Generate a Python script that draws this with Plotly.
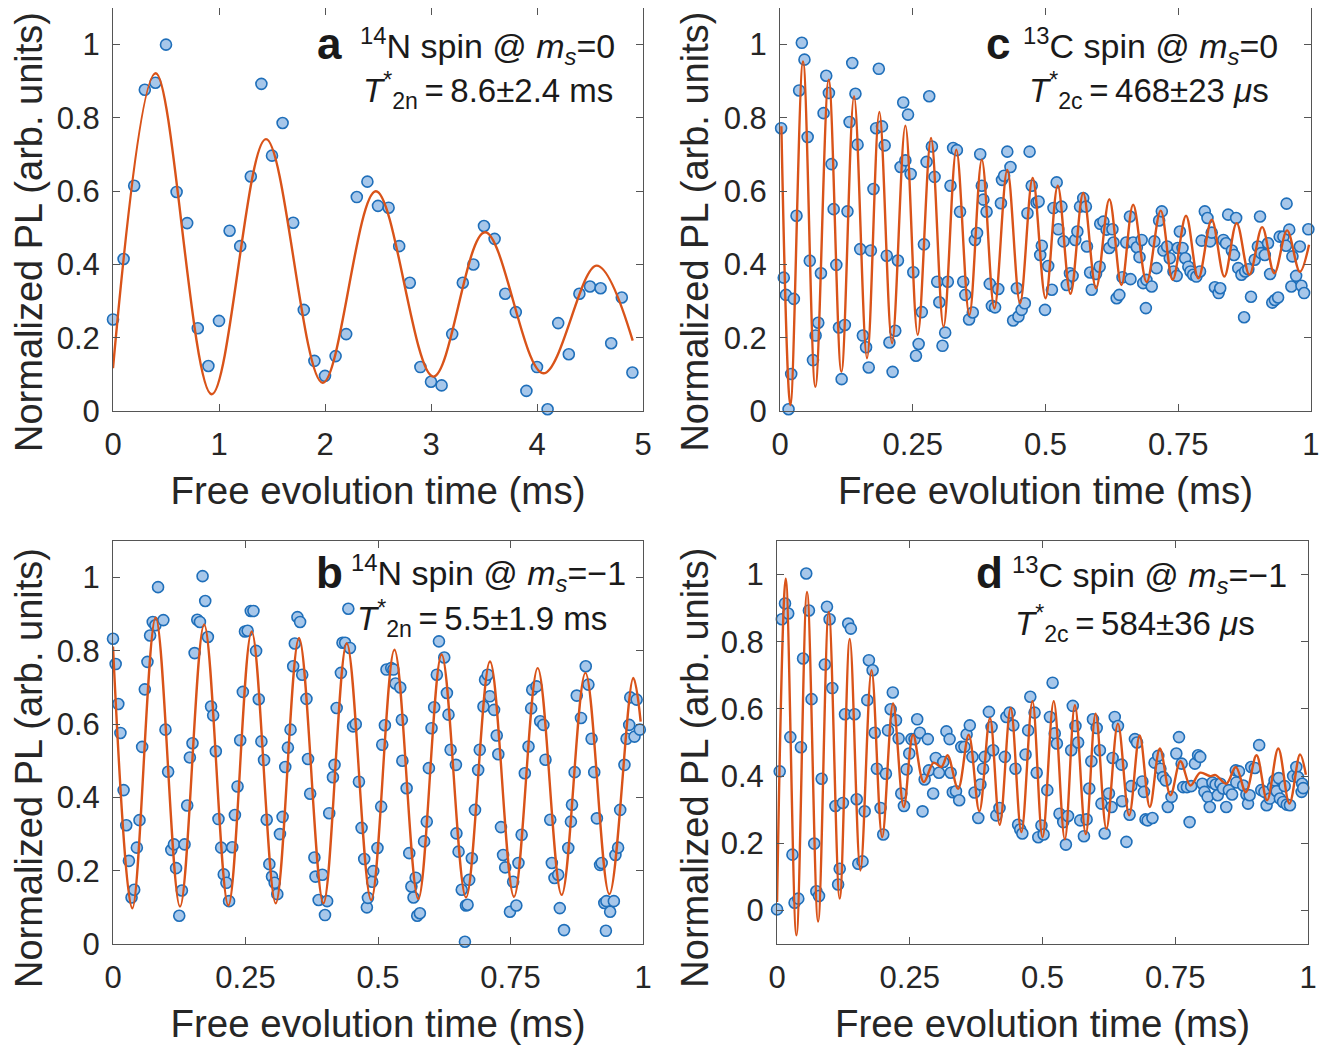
import plotly.graph_objects as go

# ---- 数据 ----
# a: 14N spin @ ms=0
a_time = [0.0, 0.1, 0.2, 0.3, 0.4, 0.5, 0.6, 0.7, 0.8, 0.9, 1.0, 1.1, 1.2, 1.3, 1.4, 1.5, 1.6, 1.7, 1.8, 1.9,
          2.0, 2.1, 2.2, 2.3, 2.4, 2.5, 2.6, 2.7, 2.8, 2.9, 3.0, 3.1, 3.2, 3.3, 3.4, 3.5, 3.6, 3.7, 3.8, 3.9,
          4.0, 4.1, 4.2, 4.3, 4.4, 4.5, 4.6, 4.7, 4.8, 4.9]
a_pl = [0.25, 0.415, 0.615, 0.877, 0.896, 1.0, 0.598, 0.513, 0.226, 0.123, 0.246, 0.492, 0.45, 0.64, 0.893,
        0.697, 0.786, 0.514, 0.276, 0.137, 0.096, 0.15, 0.21, 0.584, 0.626, 0.56, 0.555, 0.45, 0.35, 0.12,
        0.08, 0.07, 0.21, 0.35, 0.40, 0.505, 0.47, 0.32, 0.27, 0.055, 0.12, 0.005, 0.24, 0.155, 0.32, 0.34,
        0.335, 0.185, 0.31, 0.105]
a_fit_time = [0.0, 0.403, 0.931, 1.443, 1.978, 2.48, 3.022, 3.509, 4.06, 4.563, 4.903]
a_fit_pl = [0.117, 0.922, 0.046, 0.742, 0.077, 0.60, 0.094, 0.488, 0.103, 0.397, 0.192]

# b: 14N spin @ ms=-1
b_time = [0.000, 0.005, 0.010, 0.014, 0.020, 0.025, 0.030, 0.035, 0.040, 0.045, 0.050, 0.055, 0.060, 0.065,
          0.070, 0.075, 0.080, 0.085, 0.095, 0.099, 0.104, 0.110, 0.115, 0.119, 0.125, 0.130, 0.135, 0.140,
          0.145, 0.150, 0.154, 0.159, 0.164, 0.169, 0.174, 0.179, 0.185, 0.189, 0.194, 0.199, 0.204, 0.209,
          0.214, 0.219, 0.225, 0.230, 0.235, 0.240, 0.245, 0.249, 0.254, 0.260, 0.265, 0.270, 0.275, 0.280,
          0.285, 0.290, 0.295, 0.300, 0.305, 0.310, 0.315, 0.320, 0.325, 0.330, 0.335, 0.340, 0.343,
          0.348, 0.353, 0.357, 0.365, 0.368, 0.372, 0.380, 0.382, 0.388, 0.395, 0.400, 0.404, 0.408, 0.415,
          0.418, 0.422, 0.430, 0.433, 0.438, 0.444, 0.447, 0.453, 0.458, 0.464, 0.469, 0.474, 0.479, 0.481,
          0.489, 0.491, 0.499, 0.506, 0.508, 0.513, 0.516, 0.525, 0.529, 0.533, 0.542, 0.545, 0.546, 0.554,
          0.559, 0.563, 0.567, 0.571, 0.574, 0.579, 0.587, 0.592, 0.596, 0.601, 0.606, 0.611, 0.615, 0.625,
          0.630, 0.633, 0.637, 0.647, 0.648, 0.652, 0.658, 0.664, 0.666,
          0.669, 0.672, 0.677, 0.683, 0.689, 0.692, 0.699, 0.702, 0.707, 0.711, 0.719, 0.724, 0.727, 0.732,
          0.736, 0.740, 0.749, 0.755, 0.761, 0.765, 0.771, 0.777, 0.784, 0.789, 0.791, 0.799, 0.806, 0.812,
          0.816, 0.825, 0.828, 0.833, 0.840, 0.843, 0.851, 0.859, 0.864, 0.866, 0.871, 0.875, 0.883, 0.892,
          0.897, 0.903, 0.908, 0.913, 0.919, 0.922, 0.927, 0.930, 0.931, 0.938, 0.945, 0.948, 0.953, 0.957,
          0.965, 0.969, 0.974, 0.976, 0.984, 0.988, 0.994]
b_pl = [0.833, 0.764, 0.655, 0.576, 0.420, 0.324, 0.227, 0.127, 0.148, 0.263, 0.338, 0.538, 0.695, 0.770,
        0.842, 0.879, 0.870, 0.974, 0.884, 0.585, 0.470, 0.257, 0.272, 0.207, 0.077, 0.146, 0.272, 0.378,
        0.509, 0.548, 0.794, 0.885, 0.879, 1.004, 0.936, 0.838, 0.648, 0.624, 0.526, 0.341, 0.263, 0.190,
        0.167, 0.117, 0.264, 0.352, 0.430, 0.556, 0.688, 0.853, 0.855, 0.909, 0.909, 0.800, 0.668, 0.553,
        0.502, 0.339, 0.218, 0.184, 0.167, 0.136, 0.300, 0.347, 0.483, 0.536, 0.585, 0.758, 0.820,
        0.892, 0.879, 0.735, 0.669, 0.505, 0.410, 0.236, 0.184, 0.120, 0.189, 0.079, 0.117, 0.357, 0.455,
        0.489, 0.644, 0.740, 0.822, 0.822, 0.915, 0.808, 0.594, 0.600, 0.443, 0.317, 0.232, 0.100, 0.126,
        0.170, 0.199, 0.262, 0.375, 0.544, 0.597, 0.749, 0.753, 0.749, 0.711, 0.700, 0.612, 0.500, 0.425,
        0.248, 0.157, 0.127, 0.181, 0.077, 0.084, 0.280, 0.334, 0.480, 0.589, 0.646, 0.735, 0.826, 0.782,
        0.685, 0.626, 0.530, 0.489, 0.302, 0.252, 0.148, 0.006, 0.105,
        0.107, 0.175, 0.234, 0.366, 0.475, 0.530, 0.648, 0.721, 0.735, 0.676, 0.639, 0.569, 0.518, 0.319,
        0.243, 0.209, 0.088, 0.170, 0.105, 0.221, 0.298, 0.466, 0.539, 0.643, 0.694, 0.703, 0.608, 0.598,
        0.503, 0.339, 0.221, 0.180, 0.189, 0.098, 0.038, 0.262, 0.334, 0.380, 0.469, 0.678, 0.617, 0.758,
        0.708, 0.560, 0.469, 0.343, 0.216, 0.221, 0.112, 0.036, 0.117, 0.088, 0.117, 0.243, 0.263, 0.366,
        0.489, 0.560, 0.598, 0.673, 0.566, 0.667, 0.585]
b_fit_time = [0.0, 0.0365, 0.0805, 0.1264, 0.172, 0.2176, 0.2616, 0.307, 0.351, 0.397, 0.441, 0.487, 0.531,
              0.576, 0.620, 0.666, 0.7113, 0.7566, 0.8013, 0.8465, 0.8914, 0.9365, 0.9817, 0.9956]
b_fit_pl = [0.812, 0.0975, 0.891, 0.102, 0.872, 0.105, 0.853, 0.111, 0.835, 0.111, 0.821, 0.12, 0.803,
            0.123, 0.79, 0.127, 0.771, 0.129, 0.753, 0.134, 0.74, 0.136, 0.726, 0.607]

# c: 13C spin @ ms=0
c_time = [0.002, 0.007, 0.011, 0.016, 0.021, 0.026, 0.031, 0.036, 0.041, 0.046, 0.052, 0.056, 0.062, 0.067,
          0.072, 0.077, 0.082, 0.087, 0.092, 0.097, 0.101, 0.106, 0.111, 0.116, 0.122, 0.127, 0.131, 0.136,
          0.142, 0.146, 0.151, 0.156, 0.162, 0.167, 0.171, 0.176, 0.181, 0.186, 0.192, 0.197, 0.201, 0.206,
          0.212, 0.217, 0.222, 0.227, 0.232, 0.236, 0.241, 0.246, 0.251, 0.256, 0.261, 0.267, 0.271, 0.276,
          0.281, 0.286, 0.291, 0.296, 0.300, 0.306, 0.311, 0.316, 0.321, 0.326, 0.333, 0.339, 0.345, 0.349,
          0.356, 0.363, 0.367, 0.371, 0.377, 0.380, 0.383, 0.389, 0.395, 0.399, 0.405, 0.411, 0.416, 0.418,
          0.422, 0.428, 0.434, 0.439, 0.446, 0.449, 0.455, 0.461, 0.466, 0.470, 0.474, 0.483, 0.487, 0.490,
          0.493, 0.499, 0.505, 0.512, 0.515, 0.521, 0.524, 0.530, 0.534, 0.540, 0.546, 0.551, 0.556, 0.560,
          0.565, 0.571, 0.576, 0.578, 0.584, 0.587, 0.595, 0.602, 0.603, 0.609, 0.615, 0.620, 0.626, 0.628,
          0.634, 0.639, 0.645, 0.652, 0.659, 0.660, 0.665, 0.672, 0.677, 0.681, 0.684, 0.689, 0.690, 0.700,
          0.705, 0.709, 0.714, 0.719, 0.722, 0.729, 0.734, 0.741, 0.747, 0.749, 0.753, 0.758, 0.763, 0.769,
          0.773, 0.778, 0.784, 0.791, 0.794, 0.800, 0.805, 0.810, 0.813, 0.819, 0.826, 0.829, 0.835, 0.840,
          0.844, 0.851, 0.855, 0.859, 0.863, 0.869, 0.874, 0.876, 0.882, 0.887, 0.894, 0.900, 0.904, 0.906,
          0.913, 0.919, 0.923, 0.927, 0.932, 0.938, 0.941, 0.948, 0.953, 0.954, 0.959, 0.963, 0.965, 0.972,
          0.979, 0.982, 0.987, 0.995]
c_pl = [0.772, 0.364, 0.317, 0.005, 0.101, 0.306, 0.533, 0.875, 1.005, 0.959, 0.748, 0.410, 0.139, 0.206,
        0.241, 0.376, 0.813, 0.915, 0.868, 0.674, 0.551, 0.399, 0.228, 0.087, 0.235, 0.545, 0.789, 0.950,
        0.866, 0.727, 0.442, 0.206, 0.174, 0.119, 0.438, 0.606, 0.772, 0.934, 0.777, 0.725, 0.424, 0.187,
        0.107, 0.219, 0.411, 0.666, 0.842, 0.684, 0.809, 0.647, 0.379, 0.151, 0.183, 0.270, 0.455, 0.680,
        0.859, 0.722, 0.639, 0.353, 0.297, 0.178, 0.214, 0.353, 0.615, 0.718, 0.712, 0.544, 0.353, 0.317,
        0.250, 0.269, 0.467, 0.486, 0.701, 0.615, 0.577, 0.544, 0.347, 0.287, 0.283, 0.333, 0.567, 0.631,
        0.642, 0.708, 0.666, 0.247, 0.335, 0.258, 0.276, 0.294, 0.540, 0.708, 0.615, 0.569, 0.572, 0.426,
        0.451, 0.276, 0.396, 0.331, 0.554, 0.624, 0.496, 0.558, 0.463, 0.344, 0.376, 0.369, 0.467, 0.490,
        0.558, 0.581, 0.558, 0.449, 0.378, 0.331, 0.374, 0.394, 0.511, 0.517, 0.495, 0.445, 0.496, 0.460,
        0.308, 0.317, 0.365, 0.460, 0.531, 0.360, 0.460, 0.447, 0.420, 0.467, 0.349, 0.281, 0.358, 0.340,
        0.463, 0.390, 0.520, 0.545, 0.438, 0.449, 0.417, 0.381, 0.369, 0.445, 0.490, 0.445, 0.417, 0.394,
        0.381, 0.372, 0.367, 0.381, 0.465, 0.545, 0.527, 0.463, 0.487, 0.338, 0.322, 0.335, 0.467, 0.458,
        0.536, 0.438, 0.426, 0.527, 0.390, 0.372, 0.256, 0.381, 0.387, 0.312, 0.413, 0.449, 0.531, 0.431,
        0.426, 0.458, 0.374, 0.296, 0.303, 0.310, 0.476, 0.476, 0.451, 0.566, 0.495, 0.340, 0.422, 0.369,
        0.449, 0.342, 0.322, 0.496]
c_fit_time = [0.0025, 0.0195, 0.0433, 0.0665, 0.0916, 0.1155, 0.1394, 0.1638, 0.187, 0.211, 0.236, 0.2593,
              0.2844, 0.308, 0.332, 0.3565, 0.380, 0.4037, 0.428, 0.452, 0.4758, 0.500, 0.523, 0.547, 0.571,
              0.5952, 0.6202, 0.643, 0.665, 0.6905, 0.7169, 0.7395, 0.7646, 0.7878, 0.813, 0.8368, 0.86,
              0.884, 0.908, 0.931, 0.955, 0.979, 0.9963]
c_fit_pl = [0.777, 0.016, 0.954, 0.066, 0.904, 0.107, 0.859, 0.144, 0.816, 0.185, 0.779, 0.208, 0.745, 0.23,
            0.713, 0.262, 0.686, 0.28, 0.658, 0.294, 0.636, 0.308, 0.615, 0.32, 0.595, 0.335, 0.578, 0.344,
            0.563, 0.352, 0.547, 0.358, 0.533, 0.362, 0.522, 0.367, 0.513, 0.372, 0.502, 0.376, 0.493, 0.38,
            0.454]

# d: 13C spin @ ms=-1
d_time = [0.000, 0.005, 0.009, 0.015, 0.021, 0.025, 0.029, 0.033, 0.040, 0.045, 0.049, 0.055, 0.060, 0.065,
          0.070, 0.074, 0.079, 0.084, 0.090, 0.094, 0.099, 0.104, 0.110, 0.115, 0.118, 0.124, 0.128, 0.134,
          0.139, 0.146, 0.150, 0.153, 0.161, 0.165, 0.170, 0.173, 0.180, 0.184, 0.188, 0.195, 0.200, 0.205,
          0.209, 0.214, 0.218, 0.224, 0.229, 0.234, 0.239, 0.244, 0.249, 0.253, 0.259, 0.264, 0.269, 0.274,
          0.278, 0.284, 0.286, 0.294, 0.299, 0.305, 0.313, 0.319, 0.325, 0.327, 0.331, 0.337, 0.343, 0.347,
          0.353, 0.357, 0.363, 0.368, 0.372, 0.379, 0.383, 0.388, 0.391, 0.399, 0.404, 0.407, 0.413, 0.419,
          0.429, 0.432, 0.438, 0.445, 0.449, 0.454, 0.458, 0.462, 0.468, 0.473, 0.477, 0.485, 0.489, 0.492,
          0.498, 0.502, 0.509, 0.514, 0.519, 0.523, 0.527, 0.532, 0.539, 0.544, 0.548, 0.554, 0.557, 0.562,
          0.567, 0.571, 0.578, 0.583, 0.588, 0.592, 0.595, 0.602, 0.608, 0.611, 0.617, 0.625, 0.630, 0.632,
          0.636, 0.642, 0.649, 0.650, 0.658, 0.664, 0.667, 0.674, 0.678, 0.688, 0.691, 0.694, 0.698, 0.707,
          0.711, 0.718, 0.722, 0.727, 0.732, 0.736, 0.743, 0.752, 0.757, 0.762, 0.765, 0.772, 0.777, 0.780,
          0.787, 0.793, 0.797, 0.801, 0.805, 0.811, 0.815, 0.820, 0.826, 0.830, 0.835, 0.840, 0.846, 0.851,
          0.857, 0.864, 0.865, 0.870, 0.878, 0.884, 0.887, 0.890, 0.893, 0.900, 0.908, 0.912, 0.918, 0.922,
          0.928, 0.934, 0.937, 0.941, 0.945, 0.947, 0.953, 0.956, 0.960, 0.966, 0.972, 0.978, 0.981, 0.988,
          0.989, 0.991]
d_pl = [0.003, 0.414, 0.867, 0.914, 0.884, 0.516, 0.166, 0.023, 0.035, 0.486, 0.750, 1.003, 0.893, 0.629,
        0.199, 0.057, 0.043, 0.392, 0.732, 0.904, 0.867, 0.662, 0.311, 0.077, 0.124, 0.320, 0.584, 0.854,
        0.839, 0.584, 0.331, 0.139, 0.146, 0.295, 0.626, 0.745, 0.715, 0.529, 0.422, 0.305, 0.226, 0.407,
        0.536, 0.599, 0.649, 0.566, 0.512, 0.348, 0.311, 0.420, 0.467, 0.510, 0.510, 0.569, 0.529, 0.295,
        0.390, 0.510, 0.417, 0.348, 0.454, 0.410, 0.442, 0.533, 0.510, 0.410, 0.352, 0.355, 0.328, 0.487,
        0.487, 0.524, 0.551, 0.457, 0.351, 0.275, 0.375, 0.422, 0.457, 0.591, 0.546, 0.477, 0.283, 0.305,
        0.457, 0.576, 0.589, 0.551, 0.422, 0.255, 0.241, 0.229, 0.464, 0.536, 0.636, 0.589, 0.410, 0.218,
        0.253, 0.226, 0.358, 0.576, 0.678, 0.527, 0.497, 0.288, 0.263, 0.196, 0.281, 0.477, 0.609, 0.549,
        0.500, 0.268, 0.221, 0.271, 0.363, 0.444, 0.569, 0.543, 0.477, 0.318, 0.229, 0.348, 0.308, 0.454,
        0.576, 0.549, 0.434, 0.325, 0.204, 0.285, 0.370, 0.510, 0.500, 0.384, 0.353, 0.271, 0.268, 0.275,
        0.440, 0.460, 0.422, 0.397, 0.387, 0.308, 0.338, 0.467, 0.516, 0.437, 0.367, 0.367, 0.263, 0.370,
        0.437, 0.462, 0.457, 0.377, 0.353, 0.338, 0.308, 0.381, 0.375, 0.343, 0.377, 0.363, 0.308, 0.358,
        0.345, 0.417, 0.381, 0.414, 0.372, 0.345, 0.318, 0.343, 0.427, 0.424, 0.492, 0.358, 0.353, 0.313,
        0.333, 0.368, 0.387, 0.355, 0.394, 0.333, 0.323, 0.370, 0.315, 0.313, 0.400, 0.427, 0.397, 0.353,
        0.377, 0.364]
d_fit_time = [0.0, 0.0164, 0.0365, 0.0565, 0.0773, 0.0974, 0.118, 0.137, 0.157, 0.178, 0.198, 0.2185, 0.2386,
              0.2562, 0.2763, 0.295, 0.3095, 0.321, 0.341, 0.361, 0.381, 0.401, 0.4194, 0.44, 0.4602, 0.481,
              0.5, 0.5211, 0.542, 0.561, 0.5814, 0.6, 0.6203, 0.642, 0.6631, 0.683, 0.702, 0.721, 0.741,
              0.7597, 0.7785, 0.797, 0.815, 0.826, 0.846, 0.864, 0.883, 0.903, 0.923, 0.944, 0.965, 0.985,
              0.996]
d_fit_pl = [0.025, 0.988, -0.074, 0.948, -0.033, 0.889, 0.035, 0.808, 0.119, 0.715, 0.218, 0.616, 0.308,
            0.523, 0.382, 0.44, 0.427, 0.462, 0.362, 0.523, 0.295, 0.573, 0.255, 0.603, 0.233, 0.623, 0.218,
            0.623, 0.212, 0.611, 0.227, 0.586, 0.243, 0.556, 0.283, 0.521, 0.308, 0.482, 0.343, 0.444, 0.372,
            0.41, 0.40, 0.403, 0.377, 0.427, 0.352, 0.462, 0.328, 0.482, 0.318, 0.464, 0.404]

ms_ticks = [0, 0.25, 0.5, 0.75, 1]
ms_ticktext = ["0", "0.25", "0.5", "0.75", "1"]
a_ticks = [0, 1, 2, 3, 4, 5]
pl_ticks = [0, 0.2, 0.4, 0.6, 0.8, 1]
pl_ticktext = ["0", "0.2", "0.4", "0.6", "0.8", "1"]

# ---- 样式 ----
FONT = "Arial, Liberation Sans, Helvetica, sans-serif"
DOT_FILL = "#a7c7ea"
DOT_EDGE = "#1f6fba"
FIT = "#d95319"
AXC = "#555555"
TXT = "#262626"

fig = go.Figure()

panels = [
    ("x", "y", a_time, a_pl, a_fit_time, a_fit_pl),
    ("x2", "y2", c_time, c_pl, c_fit_time, c_fit_pl),
    ("x3", "y3", b_time, b_pl, b_fit_time, b_fit_pl),
    ("x4", "y4", d_time, d_pl, d_fit_time, d_fit_pl),
]
for xr, yr, t, v, ft, fv in panels:
    fig.add_trace(go.Scatter(
        x=t, y=v, xaxis=xr, yaxis=yr, mode="markers", cliponaxis=False, showlegend=False,
        marker=dict(size=11, color=DOT_FILL, line=dict(color=DOT_EDGE, width=1.6)),
    ))
    fig.add_trace(go.Scatter(
        x=ft, y=fv, xaxis=xr, yaxis=yr, mode="lines", cliponaxis=False, showlegend=False,
        line=dict(color=FIT, width=2.4, shape="spline", smoothing=1.0),
    ))

# 坐标轴
def xax(domain, anchor, rng, tv, tt):
    return dict(
        domain=domain, anchor=anchor, range=rng, tickvals=tv, ticktext=tt,
        showline=True, linecolor=AXC, linewidth=1, mirror="ticks",
        ticks="inside", ticklen=7, tickcolor=AXC, showgrid=False, zeroline=False,
        tickfont=dict(family=FONT, size=31, color=TXT), ticklabelstandoff=6,
        title=dict(text="Free evolution time (ms)", font=dict(family=FONT, size=38.5, color=TXT), standoff=15),
    )

def yax(domain, anchor, rng):
    return dict(
        domain=domain, anchor=anchor, range=rng, tickvals=pl_ticks, ticktext=pl_ticktext,
        showline=True, linecolor=AXC, linewidth=1, mirror="ticks",
        ticks="inside", ticklen=7, tickcolor=AXC, showgrid=False, zeroline=False,
        tickfont=dict(family=FONT, size=31, color=TXT), ticklabelstandoff=6,
    )

left_dom = [0.0, 0.4424]
right_dom_c = [0.5568, 1.0]
right_dom_d = [0.5543, 0.9975]
top_dom = [0.5694, 1.0]
bot_dom = [0.0, 0.4306]

fig.update_layout(
    xaxis=xax(left_dom, "y", [0, 5], a_ticks, [str(v) for v in a_ticks]),
    yaxis=yax(top_dom, "x", [0, 1.1]),
    xaxis2=xax(right_dom_c, "y2", [0, 1], ms_ticks, ms_ticktext),
    yaxis2=yax(top_dom, "x2", [0, 1.1]),
    xaxis3=xax(left_dom, "y3", [0, 1], ms_ticks, ms_ticktext),
    yaxis3=yax(bot_dom, "x3", [0, 1.1]),
    xaxis4=xax(right_dom_d, "y4", [0, 1], ms_ticks, ms_ticktext),
    yaxis4=yax(bot_dom, "x4", [-0.1, 1.1]),
    width=1330, height=1049,
    margin=dict(l=105, r=27, t=0, b=113),
    paper_bgcolor="white", plot_bgcolor="white",
    font=dict(family=FONT, color=TXT),
)

# 纵轴标题 (放低一些, 与原图一致)
for xp, yp in [(-0.0701, 0.7607), (0.4855, 0.7607), (-0.0701, 0.188), (0.4855, 0.188)]:
    fig.add_annotation(x=xp, y=yp, xref="paper", yref="paper", text="Normalized PL (arb. units)",
                       textangle=-90, showarrow=False, xanchor="center", yanchor="middle",
                       font=dict(family=FONT, size=38, color=TXT))

# 面板文字
thin = "\u2009"
def t2(sub, val, err, unit):
    return ("<i>T</i><sup>*</sup><sub>" + sub + "</sub>" + thin + "=" + thin + val
            + "±" + err + " " + unit)

labels = [
    # (x轴, y轴, 字母, 字母位置, 第一行, 第一行位置, 第二行, 第二行位置)
    ("x", "y", "a", (0.409, 0.912),
     "<sup>14</sup>N spin @ <i>m<sub>s</sub></i>=0", (0.462, 0.905),
     t2("2n", "8.6", "2.4", "ms"), (0.468, 0.795)),
    ("x2", "y2", "c", (0.411, 0.912),
     "<sup>13</sup>C spin @ <i>m<sub>s</sub></i>=0", (0.454, 0.905),
     t2("2c", "468", "23", "<i>μ</i>s"), (0.466, 0.795)),
    ("x3", "y3", "b", (0.409, 0.922),
     "<sup>14</sup>N spin @ <i>m<sub>s</sub></i>=−1", (0.446, 0.920),
     t2("2n", "5.5", "1.9", "ms"), (0.457, 0.808)),
    ("x4", "y4", "d", (0.401, 0.922),
     "<sup>13</sup>C spin @ <i>m<sub>s</sub></i>=−1", (0.439, 0.915),
     t2("2c", "584", "36", "<i>μ</i>s"), (0.445, 0.795)),
]
for xr, yr, letter, lp, l1, p1, l2, p2 in labels:
    fig.add_annotation(x=lp[0], y=lp[1], xref=xr + " domain", yref=yr + " domain", text="<b>" + letter + "</b>",
                       showarrow=False, xanchor="center", yanchor="middle",
                       font=dict(family=FONT, size=44, color="#1a1a1a"))
    fig.add_annotation(x=p1[0], y=p1[1], xref=xr + " domain", yref=yr + " domain", text=l1,
                       showarrow=False, xanchor="left", yanchor="middle",
                       font=dict(family=FONT, size=34, color="#1a1a1a"))
    fig.add_annotation(x=p2[0], y=p2[1], xref=xr + " domain", yref=yr + " domain", text=l2,
                       showarrow=False, xanchor="left", yanchor="middle",
                       font=dict(family=FONT, size=33, color="#1a1a1a"))

fig.write_html("out.html")
